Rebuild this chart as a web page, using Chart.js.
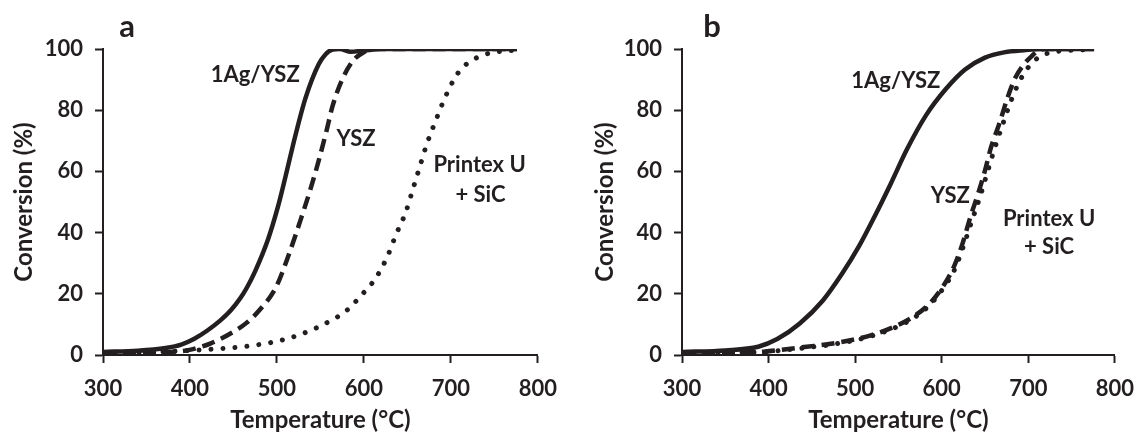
<!DOCTYPE html>
<html>
<head>
<meta charset="utf-8">
<script src="https://cdn.jsdelivr.net/npm/chart.js@4.4.1/dist/chart.umd.min.js"></script>
<style>
    html, body { margin: 0; padding: 0; background: #fff; }
    #wrap { position: relative; width: 1147px; height: 438px; }
    .panel { position: absolute; top: 0; width: 570px; height: 438px; }
</style>
</head>
<body>
<div id="wrap">
    <div class="panel" style="left:0"><canvas id="chartA"></canvas></div>
    <div class="panel" style="left:577px"><canvas id="chartB"></canvas></div>
</div>
<script>
// Axis ticks
const xTicks = [300, 400, 500, 600, 700, 800];
const yTicks = [0, 20, 40, 60, 80, 100];

// Panel a - 1Ag/YSZ (solid)
const agA_T = [300, 340, 372, 390, 405, 420, 435, 447, 458, 466, 475, 490, 501, 510, 521, 533, 548, 556, 564, 572, 585, 600, 620, 700, 776];
const agA_C = [1, 1.4, 2.3, 3.4, 5.3, 8, 11.3, 14.6, 18.6, 22.3, 27.4, 38, 48.3, 58.5, 71.5, 84.1, 95, 98.3, 99.8, 100, 99.1, 99.5, 100, 100, 100];

// Panel a - YSZ (dashed)
const yszA_T = [300, 350, 380, 398, 424, 450, 465, 480, 499, 514, 527, 538, 548, 557, 564, 575, 587, 600, 610, 700, 776];
const yszA_C = [0.6, 0.8, 1.1, 1.6, 3.8, 7.6, 10.5, 14.7, 22.2, 33.1, 44, 53.7, 63.5, 73.3, 81.4, 90, 96, 99, 100, 100, 100];

// Panel a - Printex U + SiC (dotted)
const puA_T = [300, 350, 400, 440, 469, 488, 506, 525, 544, 563, 580, 597, 614, 627, 637, 648, 656, 664, 672, 682, 692, 704, 712, 722, 734, 747, 760, 776];
const puA_C = [0.5, 0.8, 1.5, 2.2, 3, 3.8, 4.9, 6.5, 8.7, 11.4, 14.5, 19.5, 25.3, 32.2, 39.4, 46.6, 53.9, 61.3, 68.7, 76.2, 83.3, 90.3, 93.5, 95.9, 97.7, 98.8, 99.3, 99.6];

// Panel b - 1Ag/YSZ (solid)
const agB_T = [300, 350, 388, 410, 436, 463, 485, 504, 522, 541, 560, 582, 605, 627, 650, 672, 695, 720, 776];
const agB_C = [1, 1.5, 2.7, 5.2, 10.3, 17.9, 26.6, 35.3, 45, 55.9, 67.3, 78.4, 87, 93.3, 97.2, 98.9, 99.6, 100, 100];

// Panel b - YSZ (dashed)
const yszB_T = [300, 350, 395, 418, 444, 470, 496, 519, 545, 567, 586, 601, 614, 624, 633, 642, 650, 657, 667, 676, 685, 695, 704, 712, 720, 776];
const yszB_C = [0.5, 0.8, 1.1, 1.8, 2.7, 3.6, 4.9, 6.5, 9.2, 12.5, 16.8, 22.2, 28.8, 36.4, 45, 52.7, 60.3, 67.9, 76, 84.1, 90.6, 95, 97.7, 99.5, 100, 100];

// Panel b - Printex U + SiC (dotted)
const puB_T = [300, 350, 395, 418, 444, 470, 496, 519, 545, 567, 586, 601, 615, 625, 635, 644, 652, 660, 670, 680, 690, 700, 712, 725, 745, 776];
const puB_C = [0.5, 0.8, 1, 1.6, 2.4, 3.3, 4.6, 6.2, 8.8, 12, 16.3, 21.5, 28, 35.5, 44, 51.5, 59, 66.5, 75, 83, 89.5, 94, 97.3, 98.8, 99.5, 99.8];

const ink = '#231f20';
const fontFamily = 'Lato, "Open Sans", sans-serif';

function pts(xs, ys) {
    return xs.map((x, i) => ({ x: x, y: ys[i] }));
}

function lineSet(label, xs, ys, kind) {
    const ds = {
        label: label,
        data: pts(xs, ys),
        borderColor: ink,
        borderWidth: 4.5,
        pointRadius: 0,
        fill: false,
        cubicInterpolationMode: 'monotone'
    };
    if (kind === 'dash') {
        ds.borderDash = [13, 7];
    } else if (kind === 'dot') {
        ds.borderDash = [0.01, 12];
        ds.borderCapStyle = 'round';
        ds.borderWidth = 5;
    }
    return ds;
}

// Text labels drawn in data coordinates
const textPlugin = {
    id: 'panelText',
    afterDatasetsDraw(chart, args, opts) {
        const ctx = chart.ctx;
        const xs = chart.scales.x, ys = chart.scales.y;
        ctx.save();
        ctx.fillStyle = ink;
        ctx.textAlign = 'center';
        ctx.textBaseline = 'middle';
        ctx.font = 'bold 22px ' + fontFamily;
        opts.notes.forEach(n => {
            ctx.fillText(n.text, xs.getPixelForValue(n.x), ys.getPixelForValue(n.y));
        });
        ctx.font = 'bold 31px ' + fontFamily;
        ctx.fillText(opts.letter, chart.chartArea.left + opts.letterDx, chart.chartArea.top - 22);
        ctx.restore();
    }
};

function makeChart(id, datasets, cfg) {
    const ctx = document.getElementById(id).getContext('2d');
    return new Chart(ctx, {
        type: 'line',
        data: { datasets: datasets },
        plugins: [textPlugin],
        options: {
            responsive: true,
            maintainAspectRatio: false,
            animation: false,
            layout: { padding: { left: 0, right: cfg.padRight, top: 49, bottom: 0 } },
            plugins: {
                legend: { display: false },
                tooltip: { enabled: false },
                panelText: { notes: cfg.notes, letter: cfg.letter, letterDx: cfg.letterDx }
            },
            scales: {
                x: {
                    type: 'linear',
                    min: 300,
                    max: 800,
                    afterBuildTicks: s => { s.ticks = xTicks.map(v => ({ value: v })); },
                    afterFit: s => { s.height = 83; },
                    grid: { drawOnChartArea: false, drawTicks: true, tickLength: 8, tickWidth: 2, tickColor: ink },
                    border: { display: true, width: 2, color: ink },
                    ticks: { color: ink, padding: 13, font: { family: fontFamily, size: 22, weight: 'bold' } },
                    title: {
                        display: true,
                        text: 'Temperature (°C)',
                        color: ink,
                        padding: { top: 0, bottom: 3 },
                        font: { family: fontFamily, size: 24, weight: 'bold' }
                    }
                },
                y: {
                    min: 0,
                    max: 100,
                    afterBuildTicks: s => { s.ticks = yTicks.map(v => ({ value: v })); },
                    afterFit: s => { s.width = cfg.yWidth; },
                    grid: { drawOnChartArea: false, drawTicks: true, tickLength: 8, tickWidth: 2, tickColor: ink },
                    border: { display: true, width: 2, color: ink },
                    ticks: { color: ink, padding: 12, font: { family: fontFamily, size: 22, weight: 'bold' } },
                    title: {
                        display: true,
                        text: 'Conversion (%)',
                        color: ink,
                        padding: { top: cfg.yTitlePad, bottom: 0 },
                        font: { family: fontFamily, size: 24, weight: 'bold' }
                    }
                }
            }
        }
    });
}

makeChart('chartA', [
    lineSet('1Ag/YSZ', agA_T, agA_C, 'solid'),
    lineSet('YSZ', yszA_T, yszA_C, 'dash'),
    lineSet('Printex U + SiC', puA_T, puA_C, 'dot')
], {
    padRight: 22,
    yWidth: 103,
    yTitlePad: 10,
    letter: 'a',
    letterDx: 24,
    notes: [
        { text: '1Ag/YSZ', x: 475, y: 91.5 },
        { text: 'YSZ', x: 591, y: 70.7 },
        { text: 'Printex U', x: 733, y: 62.2 },
        { text: '+ SiC', x: 734, y: 52.4 }
    ]
});

makeChart('chartB', [
    lineSet('1Ag/YSZ', agB_T, agB_C, 'solid'),
    lineSet('YSZ', yszB_T, yszB_C, 'dash'),
    lineSet('Printex U + SiC', puB_T, puB_C, 'dot')
], {
    padRight: 20,
    yWidth: 105,
    yTitlePad: 14,
    letter: 'b',
    letterDx: 30,
    notes: [
        { text: '1Ag/YSZ', x: 547, y: 89.7 },
        { text: 'YSZ', x: 610, y: 52.1 },
        { text: 'Printex U', x: 724, y: 44.6 },
        { text: '+ SiC', x: 724, y: 35.2 }
    ]
});
</script>
</body>
</html>
